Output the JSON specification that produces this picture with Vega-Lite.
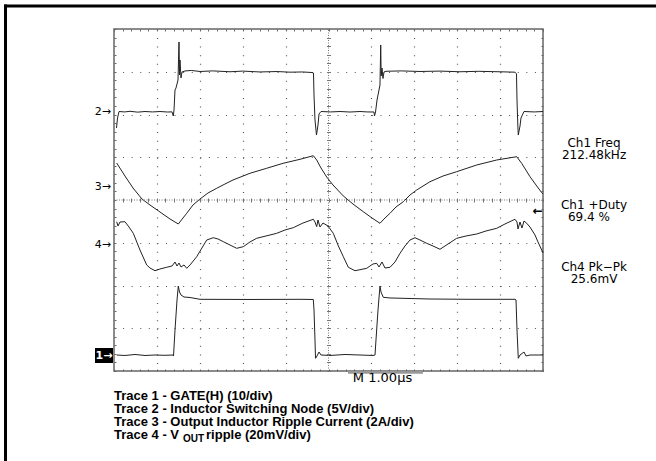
{
  "$schema": "https://vega.github.io/schema/vega-lite/v6.json",
  "width": 429,
  "height": 342,
  "autosize": {"type": "none"},
  "padding": {"left": 114, "top": 29, "right": 113, "bottom": 90},
  "background": "white",
  "config": {
    "view": {"stroke": "#666", "strokeWidth": 1.5},
    "axis": {"title": null, "labels": false, "domain": false, "grid": false, "tickColor": "#666", "tickWidth": 1}
  },
  "datasets": {
    "traces": [
      {"t":1,"x":0.063,"y":0.374},{"t":1,"x":0.256,"y":0.363},{"t":1,"x":0.49,"y":0.386},{"t":1,"x":0.723,"y":0.363},{"t":1,"x":0.956,"y":0.374},{"t":1,"x":1.189,"y":0.367},{"t":1,"x":1.375,"y":0.374},{"t":1,"x":1.387,"y":0.351},{"t":1,"x":1.422,"y":0.959},{"t":1,"x":1.469,"y":1.661},{"t":1,"x":1.499,"y":1.988},{"t":1,"x":1.527,"y":1.848},{"t":1,"x":1.562,"y":1.778},{"t":1,"x":1.632,"y":1.731},{"t":1,"x":1.772,"y":1.719},{"t":1,"x":2.005,"y":1.677},{"t":1,"x":3.17,"y":1.673},{"t":1,"x":4.336,"y":1.677},{"t":1,"x":4.646,"y":1.673},{"t":1,"x":4.662,"y":1.427},{"t":1,"x":4.685,"y":0.725},{"t":1,"x":4.697,"y":0.297},{"t":1,"x":4.732,"y":0.351},{"t":1,"x":4.779,"y":0.444},{"t":1,"x":4.825,"y":0.374},{"t":1,"x":5.035,"y":0.363},{"t":1,"x":5.385,"y":0.386},{"t":1,"x":5.734,"y":0.374},{"t":1,"x":6.037,"y":0.363},{"t":1,"x":6.084,"y":0.374},{"t":1,"x":6.107,"y":0.725},{"t":1,"x":6.154,"y":1.427},{"t":1,"x":6.2,"y":1.988},{"t":1,"x":6.224,"y":1.848},{"t":1,"x":6.277,"y":1.724},{"t":1,"x":6.434,"y":1.708},{"t":1,"x":7.366,"y":1.684},{"t":1,"x":8.298,"y":1.677},{"t":1,"x":9.347,"y":1.677},{"t":1,"x":9.371,"y":1.661},{"t":1,"x":9.394,"y":0.959},{"t":1,"x":9.424,"y":0.297},{"t":1,"x":9.464,"y":0.374},{"t":1,"x":9.557,"y":0.444},{"t":1,"x":9.604,"y":0.351},{"t":1,"x":9.697,"y":0.374},{"t":1,"x":10,"y":0.374},
      {"t":2,"x":0.058,"y":5.684},{"t":2,"x":0.082,"y":5.918},{"t":2,"x":0.117,"y":6.07},{"t":2,"x":0.25,"y":6.06},{"t":2,"x":0.373,"y":6.075},{"t":2,"x":0.55,"y":6.055},{"t":2,"x":0.723,"y":6.07},{"t":2,"x":0.9,"y":6.06},{"t":2,"x":1.072,"y":6.07},{"t":2,"x":1.25,"y":6.058},{"t":2,"x":1.352,"y":6.062},{"t":2,"x":1.382,"y":5.965},{"t":2,"x":1.399,"y":6.105},{"t":2,"x":1.422,"y":6.573},{"t":2,"x":1.445,"y":6.62},{"t":2,"x":1.492,"y":6.807},{"t":2,"x":1.515,"y":7.696},{"t":2,"x":1.527,"y":6.924},{"t":2,"x":1.538,"y":7.275},{"t":2,"x":1.562,"y":6.854},{"t":2,"x":1.585,"y":6.994},{"t":2,"x":1.655,"y":7.018},{"t":2,"x":1.8,"y":7.03},{"t":2,"x":2.005,"y":7.006},{"t":2,"x":2.3,"y":7.02},{"t":2,"x":2.704,"y":7.0},{"t":2,"x":3.0,"y":7.015},{"t":2,"x":3.403,"y":6.995},{"t":2,"x":3.8,"y":7.005},{"t":2,"x":4.103,"y":6.99},{"t":2,"x":4.4,"y":6.995},{"t":2,"x":4.615,"y":6.982},{"t":2,"x":4.65,"y":6.971},{"t":2,"x":4.662,"y":6.456},{"t":2,"x":4.685,"y":5.871},{"t":2,"x":4.72,"y":5.52},{"t":2,"x":4.755,"y":5.754},{"t":2,"x":4.779,"y":6.012},{"t":2,"x":4.825,"y":6.07},{"t":2,"x":5.05,"y":6.06},{"t":2,"x":5.268,"y":6.07},{"t":2,"x":5.5,"y":6.058},{"t":2,"x":5.734,"y":6.07},{"t":2,"x":5.9,"y":6.06},{"t":2,"x":6.061,"y":6.058},{"t":2,"x":6.072,"y":5.965},{"t":2,"x":6.096,"y":6.058},{"t":2,"x":6.131,"y":6.339},{"t":2,"x":6.177,"y":6.573},{"t":2,"x":6.2,"y":6.69},{"t":2,"x":6.217,"y":7.626},{"t":2,"x":6.228,"y":6.901},{"t":2,"x":6.247,"y":7.088},{"t":2,"x":6.27,"y":6.842},{"t":2,"x":6.294,"y":6.994},{"t":2,"x":6.34,"y":7.011},{"t":2,"x":6.7,"y":7.02},{"t":2,"x":7.133,"y":7.006},{"t":2,"x":7.6,"y":7.015},{"t":2,"x":8.065,"y":7.0},{"t":2,"x":8.5,"y":7.01},{"t":2,"x":8.998,"y":6.999},{"t":2,"x":9.347,"y":6.99},{"t":2,"x":9.382,"y":6.95},{"t":2,"x":9.394,"y":6.339},{"t":2,"x":9.413,"y":5.754},{"t":2,"x":9.424,"y":5.52},{"t":2,"x":9.464,"y":5.731},{"t":2,"x":9.487,"y":5.918},{"t":2,"x":9.557,"y":6.07},{"t":2,"x":9.8,"y":6.06},{"t":2,"x":10,"y":6.07},
      {"t":3,"x":0.063,"y":4.865},{"t":3,"x":0.256,"y":4.561},{"t":3,"x":0.443,"y":4.281},{"t":3,"x":0.653,"y":4.023},{"t":3,"x":0.839,"y":3.883},{"t":3,"x":1.072,"y":3.719},{"t":3,"x":1.305,"y":3.556},{"t":3,"x":1.499,"y":3.439},{"t":3,"x":1.695,"y":3.689},{"t":3,"x":1.841,"y":3.883},{"t":3,"x":2.005,"y":4.023},{"t":3,"x":2.191,"y":4.164},{"t":3,"x":2.394,"y":4.274},{"t":3,"x":2.587,"y":4.374},{"t":3,"x":2.774,"y":4.468},{"t":3,"x":3.17,"y":4.625},{"t":3,"x":3.559,"y":4.742},{"t":3,"x":3.939,"y":4.858},{"t":3,"x":4.336,"y":4.952},{"t":3,"x":4.646,"y":5.036},{"t":3,"x":4.725,"y":4.936},{"t":3,"x":4.825,"y":4.749},{"t":3,"x":4.958,"y":4.538},{"t":3,"x":5.105,"y":4.351},{"t":3,"x":5.345,"y":4.094},{"t":3,"x":5.571,"y":3.906},{"t":3,"x":5.811,"y":3.726},{"t":3,"x":6.014,"y":3.579},{"t":3,"x":6.2,"y":3.455},{"t":3,"x":6.317,"y":3.579},{"t":3,"x":6.434,"y":3.689},{"t":3,"x":6.573,"y":3.836},{"t":3,"x":6.744,"y":3.96},{"t":3,"x":6.9,"y":4.117},{"t":3,"x":7.056,"y":4.234},{"t":3,"x":7.366,"y":4.428},{"t":3,"x":7.669,"y":4.561},{"t":3,"x":7.988,"y":4.662},{"t":3,"x":8.455,"y":4.819},{"t":3,"x":8.921,"y":4.936},{"t":3,"x":9.387,"y":5.013},{"t":3,"x":9.503,"y":4.858},{"t":3,"x":9.697,"y":4.545},{"t":3,"x":9.837,"y":4.351},{"t":3,"x":9.97,"y":4.171},{"t":3,"x":10,"y":4.14},
      {"t":4,"x":0.063,"y":3.492},{"t":4,"x":0.093,"y":3.392},{"t":4,"x":0.14,"y":3.485},{"t":4,"x":0.256,"y":3.492},{"t":4,"x":0.35,"y":3.368},{"t":4,"x":0.45,"y":3.221},{"t":4,"x":0.606,"y":2.83},{"t":4,"x":0.762,"y":2.48},{"t":4,"x":0.839,"y":2.409},{"t":4,"x":0.956,"y":2.346},{"t":4,"x":1.072,"y":2.386},{"t":4,"x":1.228,"y":2.426},{"t":4,"x":1.352,"y":2.456},{"t":4,"x":1.422,"y":2.55},{"t":4,"x":1.469,"y":2.456},{"t":4,"x":1.515,"y":2.526},{"t":4,"x":1.562,"y":2.433},{"t":4,"x":1.632,"y":2.48},{"t":4,"x":1.695,"y":2.402},{"t":4,"x":1.772,"y":2.48},{"t":4,"x":1.928,"y":2.674},{"t":4,"x":2.161,"y":3.064},{"t":4,"x":2.315,"y":3.118},{"t":4,"x":2.424,"y":3.088},{"t":4,"x":2.548,"y":3.025},{"t":4,"x":2.704,"y":2.947},{"t":4,"x":2.86,"y":2.87},{"t":4,"x":2.937,"y":2.889},{"t":4,"x":3.014,"y":2.908},{"t":4,"x":3.17,"y":3.018},{"t":4,"x":3.326,"y":3.104},{"t":4,"x":3.543,"y":3.158},{"t":4,"x":3.793,"y":3.221},{"t":4,"x":3.986,"y":3.298},{"t":4,"x":4.179,"y":3.352},{"t":4,"x":4.406,"y":3.462},{"t":4,"x":4.646,"y":3.549},{"t":4,"x":4.685,"y":3.485},{"t":4,"x":4.725,"y":3.376},{"t":4,"x":4.755,"y":3.532},{"t":4,"x":4.802,"y":3.368},{"t":4,"x":4.872,"y":3.462},{"t":4,"x":4.988,"y":3.392},{"t":4,"x":5.112,"y":3.221},{"t":4,"x":5.221,"y":2.947},{"t":4,"x":5.345,"y":2.674},{"t":4,"x":5.462,"y":2.426},{"t":4,"x":5.618,"y":2.346},{"t":4,"x":5.758,"y":2.374},{"t":4,"x":5.891,"y":2.402},{"t":4,"x":5.967,"y":2.456},{"t":4,"x":6.037,"y":2.503},{"t":4,"x":6.124,"y":2.519},{"t":4,"x":6.177,"y":2.433},{"t":4,"x":6.247,"y":2.55},{"t":4,"x":6.317,"y":2.409},{"t":4,"x":6.434,"y":2.426},{"t":4,"x":6.55,"y":2.55},{"t":4,"x":6.667,"y":2.753},{"t":4,"x":6.783,"y":2.924},{"t":4,"x":6.9,"y":3.064},{"t":4,"x":7.016,"y":3.118},{"t":4,"x":7.133,"y":3.064},{"t":4,"x":7.289,"y":2.987},{"t":4,"x":7.436,"y":2.924},{"t":4,"x":7.599,"y":2.847},{"t":4,"x":7.786,"y":2.971},{"t":4,"x":7.988,"y":3.104},{"t":4,"x":8.205,"y":3.158},{"t":4,"x":8.455,"y":3.205},{"t":4,"x":8.671,"y":3.275},{"t":4,"x":8.921,"y":3.338},{"t":4,"x":9.114,"y":3.439},{"t":4,"x":9.347,"y":3.549},{"t":4,"x":9.394,"y":3.485},{"t":4,"x":9.417,"y":3.322},{"t":4,"x":9.464,"y":3.485},{"t":4,"x":9.51,"y":3.345},{"t":4,"x":9.557,"y":3.509},{"t":4,"x":9.62,"y":3.456},{"t":4,"x":9.697,"y":3.368},{"t":4,"x":9.814,"y":3.181},{"t":4,"x":9.883,"y":3.018},{"t":4,"x":9.97,"y":2.83},{"t":4,"x":10,"y":2.76}
    ]
  },
  "resolve": {"axis": {"x": "independent", "y": "independent"}},
  "layer": [
    {
      "data": {"name": "traces"},
      "transform": [{"filter": "datum.t == 3"}],
      "mark": {"type": "line", "color": "#222", "strokeWidth": 1},
      "encoding": {
        "x": {"field": "x", "type": "quantitative", "scale": {"domain": [0, 10], "nice": false, "zero": false},
              "axis": {"orient": "bottom", "values": [1, 2, 3, 4, 6, 7, 8, 9], "ticks": false, "grid": true, "gridColor": "#555", "gridDash": [1, 7.55], "gridWidth": 1.2}},
        "y": {"field": "y", "type": "quantitative", "scale": {"domain": [0, 8], "nice": false, "zero": false},
              "axis": {"orient": "left", "values": [1, 2, 3, 5, 6, 7], "ticks": false, "grid": true, "gridColor": "#555", "gridDash": [1, 7.58], "gridWidth": 1.2}}
      }
    },
    {
      "data": {"name": "traces"},
      "transform": [{"filter": "datum.t == 1"}],
      "mark": {"type": "line", "color": "#222", "strokeWidth": 1},
      "encoding": {
        "x": {"field": "x", "type": "quantitative", "scale": {"domain": [0, 10], "nice": false, "zero": false},
              "axis": {"orient": "top", "offset": -342, "tickCount": 50, "tickSize": 2}},
        "y": {"field": "y", "type": "quantitative", "scale": {"domain": [0, 8], "nice": false, "zero": false},
              "axis": {"orient": "right", "offset": -429, "tickCount": 40, "tickSize": 2}}
      }
    },
    {
      "data": {"name": "traces"},
      "transform": [{"filter": "datum.t == 2"}],
      "mark": {"type": "line", "color": "#222", "strokeWidth": 1},
      "encoding": {
        "x": {"field": "x", "type": "quantitative", "scale": {"domain": [0, 10], "nice": false, "zero": false},
              "axis": {"orient": "bottom", "offset": -342, "tickCount": 50, "tickSize": 2}},
        "y": {"field": "y", "type": "quantitative", "scale": {"domain": [0, 8], "nice": false, "zero": false},
              "axis": {"orient": "left", "offset": -429, "tickCount": 40, "tickSize": 2}}
      }
    },
    {
      "data": {"name": "traces"},
      "transform": [{"filter": "datum.t == 4"}],
      "mark": {"type": "line", "color": "#222", "strokeWidth": 1},
      "encoding": {
        "x": {"field": "x", "type": "quantitative", "scale": {"domain": [0, 10], "nice": false, "zero": false},
              "axis": {"orient": "bottom", "offset": -173, "tickCount": 50, "tickSize": 4, "tickColor": "#777"}},
        "y": {"field": "y", "type": "quantitative", "scale": {"domain": [0, 8], "nice": false, "zero": false},
              "axis": {"orient": "left", "offset": -216.5, "tickCount": 40, "tickSize": 4, "tickColor": "#777"}}
      }
    },
    {
      "data": {"values": [{}]},
      "mark": {"type": "rule", "color": "#777", "strokeWidth": 1, "strokeDash": [1, 1.5]},
      "encoding": {
        "x": {"datum": 5, "type": "quantitative", "scale": {"domain": [0, 10], "nice": false, "zero": false}, "axis": null},
        "y": {"datum": 0, "type": "quantitative", "scale": {"domain": [0, 8], "nice": false, "zero": false}, "axis": null},
        "y2": {"datum": 8}
      }
    },
    {
      "data": {"values": [{}]},
      "mark": {"type": "rule", "color": "#777", "strokeWidth": 1, "strokeDash": [1, 1.5]},
      "encoding": {
        "x": {"datum": 0, "type": "quantitative", "scale": {"domain": [0, 10], "nice": false, "zero": false}, "axis": null},
        "x2": {"datum": 10},
        "y": {"datum": 4, "type": "quantitative", "scale": {"domain": [0, 8], "nice": false, "zero": false}, "axis": null}
      }
    },
    {
      "data": {"values": [{}]},
      "mark": {"type": "rule", "color": "black", "strokeWidth": 3},
      "encoding": {
        "x": {"datum": -2.564, "type": "quantitative", "scale": {"domain": [0, 10], "nice": false, "zero": false}, "axis": null},
        "x2": {"datum": 12.634},
        "y": {"datum": 8.538, "type": "quantitative", "scale": {"domain": [0, 8], "nice": false, "zero": false}, "axis": null}
      }
    },
    {
      "data": {"values": [{}]},
      "mark": {"type": "rule", "color": "black", "strokeWidth": 3},
      "encoding": {
        "x": {"datum": -2.529, "type": "quantitative", "scale": {"domain": [0, 10], "nice": false, "zero": false}, "axis": null},
        "y": {"datum": 8.573, "type": "quantitative", "scale": {"domain": [0, 8], "nice": false, "zero": false}, "axis": null},
        "y2": {"datum": -2.105}
      }
    },
    {
      "data": {"values": [{}]},
      "mark": {"type": "rule", "color": "#999", "strokeWidth": 2.5},
      "encoding": {
        "x": {"datum": 5.455, "type": "quantitative", "scale": {"domain": [0, 10], "nice": false, "zero": false}, "axis": null},
        "x2": {"datum": 7.203},
        "y": {"datum": -0.035, "type": "quantitative", "scale": {"domain": [0, 8], "nice": false, "zero": false}, "axis": null}
      }
    },
    {
      "data": {"values": [{}]},
      "mark": {"type": "text", "text": "M 1.00µs", "font": "DejaVu Sans", "fontSize": 13, "align": "center", "baseline": "alphabetic", "color": "black"},
      "encoding": {
        "x": {"datum": 6.259, "type": "quantitative", "scale": {"domain": [0, 10], "nice": false, "zero": false}, "axis": null},
        "y": {"datum": -0.264, "type": "quantitative", "scale": {"domain": [0, 8], "nice": false, "zero": false}, "axis": null}
      }
    },
    {
      "data": {"values": [{}]},
      "mark": {"type": "rect", "color": "black"},
      "encoding": {
        "x": {"datum": -0.443, "type": "quantitative", "scale": {"domain": [0, 10], "nice": false, "zero": false}, "axis": null},
        "x2": {"datum": -0.023},
        "y": {"datum": 0.187, "type": "quantitative", "scale": {"domain": [0, 8], "nice": false, "zero": false}, "axis": null},
        "y2": {"datum": 0.538}
      }
    },
    {
      "data": {"values": [{}]},
      "mark": {"type": "text", "text": "1→", "font": "DejaVu Sans", "fontSize": 11, "fontWeight": "bold", "align": "center", "baseline": "middle", "color": "white"},
      "encoding": {
        "x": {"datum": -0.233, "type": "quantitative", "scale": {"domain": [0, 10], "nice": false, "zero": false}, "axis": null},
        "y": {"datum": 0.362, "type": "quantitative", "scale": {"domain": [0, 8], "nice": false, "zero": false}, "axis": null}
      }
    },
    {
      "data": {"values": [{}]},
      "mark": {"type": "text", "text": "2→", "font": "DejaVu Sans", "fontSize": 11, "align": "right", "baseline": "middle", "color": "black"},
      "encoding": {
        "x": {"datum": -0.07, "type": "quantitative", "scale": {"domain": [0, 10], "nice": false, "zero": false}, "axis": null},
        "y": {"datum": 6.066, "type": "quantitative", "scale": {"domain": [0, 8], "nice": false, "zero": false}, "axis": null}
      }
    },
    {
      "data": {"values": [{}]},
      "mark": {"type": "text", "text": "3→", "font": "DejaVu Sans", "fontSize": 11, "align": "right", "baseline": "middle", "color": "black"},
      "encoding": {
        "x": {"datum": -0.07, "type": "quantitative", "scale": {"domain": [0, 10], "nice": false, "zero": false}, "axis": null},
        "y": {"datum": 4.304, "type": "quantitative", "scale": {"domain": [0, 8], "nice": false, "zero": false}, "axis": null}
      }
    },
    {
      "data": {"values": [{}]},
      "mark": {"type": "text", "text": "4→", "font": "DejaVu Sans", "fontSize": 11, "align": "right", "baseline": "middle", "color": "black"},
      "encoding": {
        "x": {"datum": -0.07, "type": "quantitative", "scale": {"domain": [0, 10], "nice": false, "zero": false}, "axis": null},
        "y": {"datum": 2.947, "type": "quantitative", "scale": {"domain": [0, 8], "nice": false, "zero": false}, "axis": null}
      }
    },
    {
      "data": {"values": [{}]},
      "mark": {"type": "text", "text": "←", "font": "DejaVu Sans", "fontSize": 12, "fontWeight": "bold", "align": "center", "baseline": "middle", "color": "black"},
      "encoding": {
        "x": {"datum": 9.88, "type": "quantitative", "scale": {"domain": [0, 10], "nice": false, "zero": false}, "axis": null},
        "y": {"datum": 3.75, "type": "quantitative", "scale": {"domain": [0, 8], "nice": false, "zero": false}, "axis": null}
      }
    },
    {
      "data": {"values": [{}]},
      "mark": {"type": "text", "text": ["Ch1 Freq", "212.48kHz"], "lineHeight": 12, "font": "DejaVu Sans", "fontSize": 12, "align": "center", "baseline": "alphabetic", "color": "black"},
      "encoding": {
        "x": {"datum": 11.19, "type": "quantitative", "scale": {"domain": [0, 10], "nice": false, "zero": false}, "axis": null},
        "y": {"datum": 5.24, "type": "quantitative", "scale": {"domain": [0, 8], "nice": false, "zero": false}, "axis": null}
      }
    },
    {
      "data": {"values": [{}]},
      "mark": {"type": "text", "text": "Ch1 +Duty", "font": "DejaVu Sans", "fontSize": 12, "align": "center", "baseline": "alphabetic", "color": "black"},
      "encoding": {
        "x": {"datum": 11.19, "type": "quantitative", "scale": {"domain": [0, 10], "nice": false, "zero": false}, "axis": null},
        "y": {"datum": 3.79, "type": "quantitative", "scale": {"domain": [0, 8], "nice": false, "zero": false}, "axis": null}
      }
    },
    {
      "data": {"values": [{}]},
      "mark": {"type": "text", "text": "69.4 %", "font": "DejaVu Sans", "fontSize": 12, "align": "center", "baseline": "alphabetic", "color": "black"},
      "encoding": {
        "x": {"datum": 11.07, "type": "quantitative", "scale": {"domain": [0, 10], "nice": false, "zero": false}, "axis": null},
        "y": {"datum": 3.51, "type": "quantitative", "scale": {"domain": [0, 8], "nice": false, "zero": false}, "axis": null}
      }
    },
    {
      "data": {"values": [{}]},
      "mark": {"type": "text", "text": ["Ch4 Pk−Pk", "25.6mV"], "lineHeight": 12, "font": "DejaVu Sans", "fontSize": 12, "align": "center", "baseline": "alphabetic", "color": "black"},
      "encoding": {
        "x": {"datum": 11.19, "type": "quantitative", "scale": {"domain": [0, 10], "nice": false, "zero": false}, "axis": null},
        "y": {"datum": 2.339, "type": "quantitative", "scale": {"domain": [0, 8], "nice": false, "zero": false}, "axis": null}
      }
    },
    {
      "data": {"values": [{}]},
      "mark": {"type": "text", "text": ["Trace 1 - GATE(H) (10/div)", "Trace 2 - Inductor Switching Node (5V/div)", "Trace 3 - Output Inductor Ripple Current (2A/div)", "Trace 4 - V"], "lineHeight": 13.1, "font": "Liberation Sans", "fontWeight": "bold", "fontSize": 13, "align": "left", "baseline": "alphabetic", "color": "black"},
      "encoding": {
        "x": {"datum": 0, "type": "quantitative", "scale": {"domain": [0, 10], "nice": false, "zero": false}, "axis": null},
        "y": {"datum": -0.678, "type": "quantitative", "scale": {"domain": [0, 8], "nice": false, "zero": false}, "axis": null}
      }
    },
    {
      "data": {"values": [{}]},
      "mark": {"type": "text", "text": "OUT", "font": "Liberation Sans", "fontWeight": "bold", "fontSize": 10, "align": "left", "baseline": "alphabetic", "color": "black"},
      "encoding": {
        "x": {"datum": 1.608, "type": "quantitative", "scale": {"domain": [0, 10], "nice": false, "zero": false}, "axis": null},
        "y": {"datum": -1.661, "type": "quantitative", "scale": {"domain": [0, 8], "nice": false, "zero": false}, "axis": null}
      }
    },
    {
      "data": {"values": [{}]},
      "mark": {"type": "text", "text": "ripple (20mV/div)", "font": "Liberation Sans", "fontWeight": "bold", "fontSize": 13, "align": "left", "baseline": "alphabetic", "color": "black"},
      "encoding": {
        "x": {"datum": 2.145, "type": "quantitative", "scale": {"domain": [0, 10], "nice": false, "zero": false}, "axis": null},
        "y": {"datum": -1.598, "type": "quantitative", "scale": {"domain": [0, 8], "nice": false, "zero": false}, "axis": null}
      }
    }
  ]
}
